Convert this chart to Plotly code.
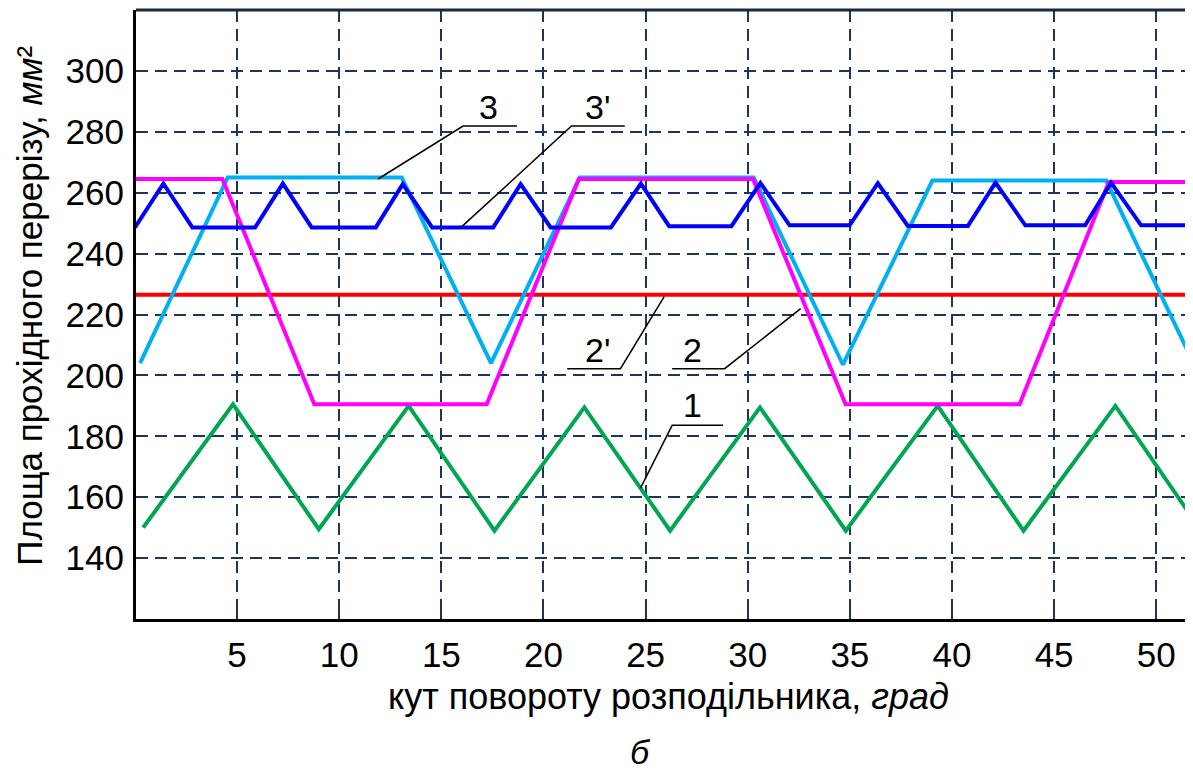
import plotly.graph_objects as go

# ---- data ----
x1 = [0.4, 4.8, 9.0, 13.4, 17.6, 22.0, 26.2, 30.6, 34.8, 39.3, 43.5, 48.0, 52.2]
y1 = [150, 190.5, 149.5, 190, 149, 189.5, 149, 189.5, 149, 190, 149, 190, 149]

x2p = [0.0, 52.0]
y2p = [226.5, 226.5]

x2 = [0.0, 4.28, 8.78, 17.22, 21.73, 30.26, 34.79, 43.31, 47.68, 52.0]
y2 = [264.5, 264.5, 190.5, 190.5, 264.5, 264.5, 190.5, 190.5, 263.5, 263.5]

x3 = [0.25, 4.54, 13.06, 17.43, 21.78, 30.29, 34.66, 39.04, 47.55, 51.9]
y3 = [204, 265, 265, 204, 265, 265, 203.5, 264, 264, 203]

x3p = [0.0, 1.39, 2.81, 5.88, 7.24, 8.65, 11.79, 13.11, 14.55, 17.54, 18.88, 20.35,
       23.30, 24.77, 26.15, 29.20, 30.62, 32.05, 34.99, 36.37, 37.84, 40.78, 42.13,
       43.59, 46.52, 47.79, 49.26, 52.0]
y3p = [248.6, 263, 248.6, 248.6, 263, 248.6, 248.6, 262.8, 248.6, 248.6, 262.8, 248.6,
       248.6, 263, 249, 249, 263.2, 249.3, 249.3, 263.1, 249.1, 249.1, 263.3,
       249.3, 249.3, 263.3, 249.3, 249.3]

x_ticks = [5, 10, 15, 20, 25, 30, 35, 40, 45, 50]
y_ticks = [140, 160, 180, 200, 220, 240, 260, 280, 300]

# curve labels: text, text position, leader polyline
labels = ["3", "3'", "2'", "2", "1"]
label_pos = [(17.33, 288.2), (22.66, 288.2), (22.66, 208.4), (27.31, 208.4), (27.32, 190.3)]
leaders = [
    [(11.90, 264.5), (16.06, 281.9), (18.70, 281.9)],
    [(15.96, 248.6), (21.37, 281.9), (23.98, 281.9)],
    [(21.16, 202.2), (23.77, 202.2), (25.91, 225.9)],
    [(26.30, 202.2), (28.87, 202.2), (32.59, 221.9)],
    [(24.75, 163.0), (26.30, 183.6), (28.79, 183.6)],
]

FONT = "Liberation Sans, Arial, sans-serif"
GRID = "#1c355e"

fig = go.Figure()
series = [
    (x1, y1, "#00A650"),
    (x2p, y2p, "#FF0000"),
    (x3, y3, "#00B0F0"),
    (x2, y2, "#FF00FF"),
    (x3p, y3p, "#0000FF"),
]
for xs, ys, col in series:
    fig.add_trace(go.Scatter(x=xs, y=ys, mode="lines",
                             line=dict(color=col, width=4), showlegend=False,
                             hoverinfo="skip"))

for pts in leaders:
    fig.add_trace(go.Scatter(x=[p[0] for p in pts], y=[p[1] for p in pts], mode="lines",
                             line=dict(color="black", width=1.5), showlegend=False,
                             hoverinfo="skip"))

for t, (lx, ly) in zip(labels, label_pos):
    fig.add_annotation(x=lx, y=ly, text=t, showarrow=False, xanchor="center",
                       yanchor="middle", font=dict(family=FONT, size=34, color="black"))

fig.add_annotation(xref="paper", yref="paper", x=-0.1005, y=0.514, textangle=-90,
                   text="Площа прохідного перерізу, <i>мм</i>²", showarrow=False,
                   xanchor="center", yanchor="middle",
                   font=dict(family=FONT, size=35, color="black"))
fig.add_annotation(xref="paper", yref="paper", x=0.504, y=-0.128,
                   text="кут повороту розподільника, <i>град</i>", showarrow=False,
                   xanchor="center", yanchor="middle",
                   font=dict(family=FONT, size=36, color="black"))
fig.add_annotation(xref="paper", yref="paper", x=0.477, y=-0.218,
                   text="<i>б</i>", showarrow=False, xanchor="center", yanchor="middle",
                   font=dict(family=FONT, size=34, color="black"))

# the page body adds an 8 px offset; margins compensate so the plot area
# sits at page pixels x 136..1193, y 10..619
fig.update_layout(
    width=1193, height=771,
    margin=dict(l=128, r=8, t=2, b=160),
    paper_bgcolor="white", plot_bgcolor="white",
    xaxis=dict(range=[0.05, 51.8], tickvals=x_ticks, ticktext=[str(v) for v in x_ticks],
               showgrid=True, gridcolor=GRID, gridwidth=2, griddash="12px,7px",
               showline=True, linecolor="black", linewidth=3, mirror=False,
               ticks="inside", ticklen=10, tickcolor=GRID, tickwidth=1.5,
               tickfont=dict(family=FONT, size=35, color="black"),
               zeroline=False, ticklabelstandoff=3, automargin=False),
    yaxis=dict(range=[120, 320], tickvals=y_ticks, ticktext=[str(v) for v in y_ticks],
               showgrid=True, gridcolor=GRID, gridwidth=2, griddash="12px,7px",
               showline=True, linecolor="black", linewidth=3,
               ticks="", tickfont=dict(family=FONT, size=35, color="black"),
               zeroline=False, ticklabelstandoff=2, automargin=False),
)
fig.add_shape(type="line", xref="paper", yref="paper", x0=0, x1=1, y0=1, y1=1,
              line=dict(color="#1a2a40", width=3))

fig.write_html("out.html")
